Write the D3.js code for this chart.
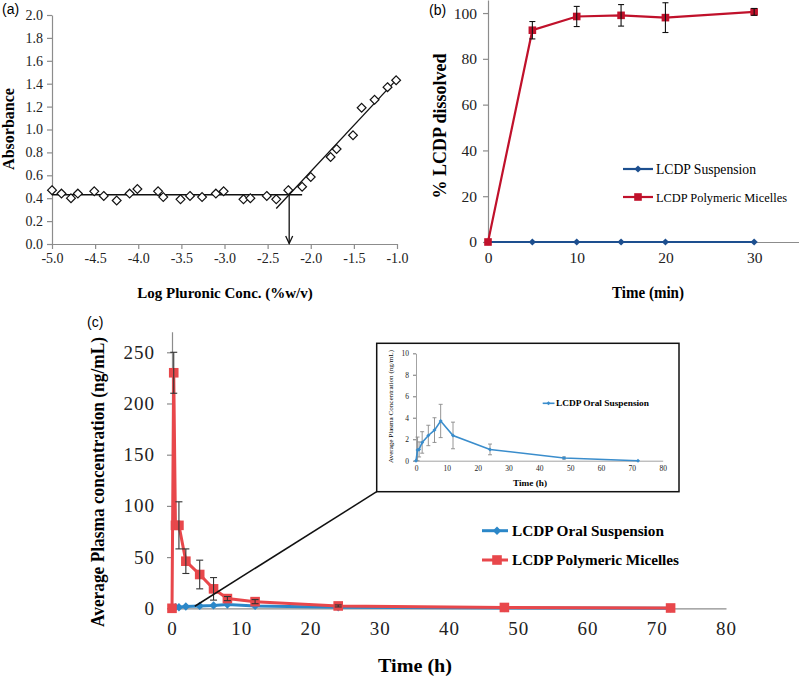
<!DOCTYPE html>
<html><head><meta charset="utf-8">
<script src="https://cdn.jsdelivr.net/npm/d3@7"></script>
<style>body{margin:0;background:#fff}svg{display:block}</style>
</head><body>
<svg id="fig" width="800" height="679"></svg>
<script>
// ---------- Data ----------
// (a) CMC determination
const absLogConc = [-5.0,-4.89,-4.78,-4.70,-4.51,-4.40,-4.25,-4.10,-4.01,-3.77,-3.71,-3.51,-3.40,-3.26,-3.10,-3.01,-2.78,-2.70,-2.51,-2.40,-2.26,-2.10,-2.00,-1.77,-1.70,-1.51,-1.41,-1.26,-1.11,-1.01];
const absValues  = [0.47,0.44,0.40,0.44,0.46,0.42,0.38,0.44,0.48,0.46,0.41,0.39,0.42,0.41,0.44,0.46,0.39,0.40,0.42,0.39,0.47,0.50,0.585,0.76,0.83,0.95,1.19,1.26,1.37,1.43];
const plateauX = [-5.0, -2.1], plateauY = [0.43, 0.43];
const riseX = [-2.40, -1.0], riseY = [0.31, 1.44];
const cmcLogConc = -2.25, cmcAbs = 0.43;
const aXTicks = [-5.0,-4.5,-4.0,-3.5,-3.0,-2.5,-2.0,-1.5,-1.0];
const aYTicks = [0,0.2,0.4,0.6,0.8,1.0,1.2,1.4,1.6,1.8,2.0];

// (b) dissolution
const dissTime = [0,5,10,15,20,30];
const suspensionDiss = [0,0,0,0,0,0];
const micelleDiss = [0,92.5,98.5,99,98,100.5];
const micelleDissErr = [0,3.8,4.4,4.7,6.5,1.5];
const bXTicks = [0,10,20,30];
const bYTicks = [0,20,40,60,80,100];
const bLegend = ["LCDP Suspension","LCDP Polymeric Micelles"];

// (c) plasma concentration
const micelleTime = [0,0.25,0.5,1,2,4,6,8,12,24,48,72];
const micelleConc = [0,230,81,81,46,33,19,9.5,6.5,2.3,0.8,0.3];
const micelleErr  = [0,20,0,23,12,14,11,2,2,1,0,0];
const oralTime = [0,0.5,1,2,4,6,8,12,24,48,72];
const oralConc = [0,1.0,1.05,1.7,2.35,2.85,3.7,2.35,1.05,0.25,0];
const oralErr  = [0,1.2,0.7,1.0,0.95,1.15,1.55,1.24,0.5,0.1,0];
const cXTicks = [0,10,20,30,40,50,60,70,80];
const cYTicks = [0,50,100,150,200,250];
const insetXTicks = [0,10,20,30,40,50,60,70,80];
const insetYTicks = [0,2,4,6,8,10];
const cLegend = ["LCDP Oral Suspension","LCDP Polymeric Micelles"];

// ---------- Drawing ----------
const svg = d3.select("#fig");
const SERIF = "Liberation Serif, Times New Roman, serif";
const SANS = "Liberation Sans, Arial, sans-serif";
const AXIS = "#8c8c8c";

function diamond(r){ return `M0,${-r}L${r},0L0,${r}L${-r},0Z`; }

function styleAxis(g, fs){
  g.attr("font-family", null).attr("font-size", null);
  g.select(".domain").attr("stroke", AXIS).attr("stroke-width",1.2);
  g.selectAll(".tick line").attr("stroke", AXIS).attr("stroke-width",1.2);
  g.selectAll(".tick text").style("font-family", SERIF).style("font-size", fs+"px").attr("fill","#222");
}
function txt(sel){ return sel.style("font-family", SERIF); }

// ===== Panel (a) =====
{
  const x = d3.scaleLinear().domain([-5,-1]).range([52,397]);
  const y = d3.scaleLinear().domain([0,2]).range([244,15]);
  const gx = svg.append("g").attr("transform","translate(0,244)")
    .call(d3.axisBottom(x).tickValues(aXTicks).tickFormat(d3.format(".1f")).tickSize(5).tickSizeOuter(0).tickPadding(4));
  styleAxis(gx, 14);
  gx.selectAll(".tick text").text(d => d3.format(".1f")(d).replace("−","-"));
  const gy = svg.append("g").attr("transform","translate(52,0)")
    .call(d3.axisLeft(y).tickValues(aYTicks).tickFormat(d3.format(".1f")).tickSize(5).tickSizeOuter(0).tickPadding(4));
  styleAxis(gy, 14);

  const line = d3.line().x(d=>x(d[0])).y(d=>y(d[1]));
  svg.append("path").attr("d", line(d3.zip(plateauX, plateauY))).attr("stroke","#111").attr("stroke-width",1.3).attr("fill","none");
  svg.append("path").attr("d", line(d3.zip(riseX, riseY))).attr("stroke","#111").attr("stroke-width",1.3).attr("fill","none");
  const ax = x(cmcLogConc), ay0 = y(cmcAbs), ay1 = y(0);
  svg.append("line").attr("x1",ax).attr("x2",ax).attr("y1",ay0).attr("y2",ay1-0.5).attr("stroke","#111").attr("stroke-width",1.3);
  svg.append("path").attr("d",`M${ax-3.5},${ay1-8}L${ax},${ay1-0.5}L${ax+3.5},${ay1-8}`).attr("stroke","#111").attr("stroke-width",1.3).attr("fill","none");

  svg.append("g").selectAll("path").data(d3.zip(absLogConc, absValues)).join("path")
    .attr("transform", d=>`translate(${x(d[0])},${y(d[1])})`)
    .attr("d", diamond(4.4)).attr("fill","#fff").attr("stroke","#111").attr("stroke-width",1.2);

  svg.append("text").attr("x",2).attr("y",14).style("font-family",SANS).attr("font-size",14).text("(a)");
  txt(svg.append("text").attr("transform","translate(14,129) rotate(-90)").attr("text-anchor","middle")
    .attr("font-weight","bold").attr("font-size",16)).text("Absorbance");
  txt(svg.append("text").attr("x",225).attr("y",298).attr("text-anchor","middle")
    .attr("font-weight","bold").attr("font-size",15)).text("Log Pluronic Conc. (%w/v)");
}

// ===== Panel (b) =====
{
  const x = d3.scaleLinear().domain([0,35]).range([488,798.5]);
  const y = d3.scaleLinear().domain([0,105.7]).range([242,0]);
  const gx = svg.append("g").attr("transform","translate(0,242)")
    .call(d3.axisBottom(x).tickValues(bXTicks).tickSize(0).tickSizeOuter(0).tickPadding(10));
  styleAxis(gx, 15.5);
  const gy = svg.append("g").attr("transform","translate(488,0)")
    .call(d3.axisLeft(y).tickValues(bYTicks).tickSize(5).tickSizeOuter(0).tickPadding(6));
  styleAxis(gy, 15.5);

  const RED = "#c0112b", BLUE = "#1d4f8f";
  const line = d3.line().x(d=>x(d[0])).y(d=>y(d[1]));
  svg.append("path").attr("d", line(d3.zip(dissTime, suspensionDiss))).attr("stroke",BLUE).attr("stroke-width",2.2).attr("fill","none");
  svg.append("g").selectAll("path").data(d3.zip(dissTime, suspensionDiss)).join("path")
    .attr("transform", d=>`translate(${x(d[0])},${y(d[1])})`).attr("d", diamond(3.6)).attr("fill",BLUE);
  svg.append("path").attr("d", line(d3.zip(dissTime, micelleDiss))).attr("stroke",RED).attr("stroke-width",2.2).attr("fill","none");
  svg.append("g").selectAll("rect").data(d3.zip(dissTime, micelleDiss)).join("rect")
    .attr("x", d=>x(d[0])-3.8).attr("y", d=>y(d[1])-3.8).attr("width",7.6).attr("height",7.6).attr("fill",RED);
  const eb = svg.append("g").attr("stroke","#111").attr("stroke-width",1.1);
  d3.zip(dissTime, micelleDiss, micelleDissErr).forEach(([t,v,e])=>{
    if(!e) return;
    const cx = x(t);
    eb.append("line").attr("x1",cx).attr("x2",cx).attr("y1",y(v+e)).attr("y2",y(v-e));
    eb.append("line").attr("x1",cx-3).attr("x2",cx+3).attr("y1",y(v+e)).attr("y2",y(v+e));
    eb.append("line").attr("x1",cx-3).attr("x2",cx+3).attr("y1",y(v-e)).attr("y2",y(v-e));
  });

  const lg = svg.append("g");
  [[BLUE,169],[RED,197]].forEach(([c,ly],i)=>{
    lg.append("line").attr("x1",623).attr("x2",653).attr("y1",ly).attr("y2",ly).attr("stroke",c).attr("stroke-width",2.2);
    if(i===0) lg.append("path").attr("transform",`translate(638,${ly})`).attr("d",diamond(3.6)).attr("fill",c);
    else lg.append("rect").attr("x",634.2).attr("y",ly-3.8).attr("width",7.6).attr("height",7.6).attr("fill",c);
    txt(lg.append("text").attr("x",656).attr("y",ly+5).attr("font-size", i===0?14.5:13)
      .attr("textLength", i===0?100:131).attr("lengthAdjust","spacingAndGlyphs")).text(bLegend[i]);
  });

  svg.append("text").attr("x",429).attr("y",15).style("font-family",SANS).attr("font-size",14).text("(b)");
  txt(svg.append("text").attr("transform","translate(446,126) rotate(-90)").attr("text-anchor","middle")
    .attr("font-weight","bold").attr("font-size",18)).text("% LCDP dissolved");
  txt(svg.append("text").attr("x",648).attr("y",298).attr("text-anchor","middle")
    .attr("font-weight","bold").attr("font-size",17)
    .attr("textLength",72).attr("lengthAdjust","spacingAndGlyphs")).text("Time (min)");
}

// ===== Panel (c) =====
{
  const x = d3.scaleLinear().domain([0,80]).range([172,726]);
  const y = d3.scaleLinear().domain([0,270]).range([608.3,331.8]);
  const gx = svg.append("g").attr("transform","translate(0,608.3)")
    .call(d3.axisBottom(x).tickValues(cXTicks).tickSize(0).tickSizeOuter(0).tickPadding(13));
  styleAxis(gx, 19);
  const gy = svg.append("g").attr("transform","translate(172,0)")
    .call(d3.axisLeft(y).tickValues(cYTicks).tickSize(5).tickSizeOuter(0).tickPadding(12));
  styleAxis(gy, 19);
  gx.selectAll(".tick text").attr("letter-spacing",1);
  gy.selectAll(".tick text").attr("letter-spacing",1);

  const RED = "#e8474b", BLUE = "#2b87c8";
  const line = d3.line().x(d=>x(d[0])).y(d=>y(d[1]));
  svg.append("path").attr("d", line(d3.zip(oralTime, oralConc))).attr("stroke",BLUE).attr("stroke-width",3).attr("fill","none");
  svg.append("g").selectAll("path").data(d3.zip(oralTime, oralConc)).join("path")
    .attr("transform", d=>`translate(${x(d[0])},${y(d[1])})`).attr("d", diamond(4.2)).attr("fill",BLUE);
  svg.append("path").attr("d", line(d3.zip(micelleTime, micelleConc))).attr("stroke",RED).attr("stroke-width",3).attr("fill","none");
  svg.append("g").selectAll("rect").data(d3.zip(micelleTime, micelleConc)).join("rect")
    .attr("x", d=>x(d[0])-4.8).attr("y", d=>y(d[1])-4.8).attr("width",9.6).attr("height",9.6).attr("fill",RED);
  const eb = svg.append("g").attr("stroke","#333").attr("stroke-width",1.1);
  d3.zip(micelleTime, micelleConc, micelleErr).forEach(([t,v,e])=>{
    if(!e) return;
    const cx = x(t);
    eb.append("line").attr("x1",cx).attr("x2",cx).attr("y1",y(v+e)).attr("y2",y(v-e));
    eb.append("line").attr("x1",cx-3.5).attr("x2",cx+3.5).attr("y1",y(v+e)).attr("y2",y(v+e));
    eb.append("line").attr("x1",cx-3.5).attr("x2",cx+3.5).attr("y1",y(v-e)).attr("y2",y(v-e));
  });

  const lg = svg.append("g");
  [[BLUE,530.7],[RED,560]].forEach(([c,ly],i)=>{
    lg.append("line").attr("x1",482).attr("x2",508).attr("y1",ly).attr("y2",ly).attr("stroke",c).attr("stroke-width",3);
    if(i===0) lg.append("path").attr("transform",`translate(497,${ly})`).attr("d",diamond(4.2)).attr("fill",c);
    else lg.append("rect").attr("x",492.2).attr("y",ly-4.8).attr("width",9.6).attr("height",9.6).attr("fill",c);
    txt(lg.append("text").attr("x",512).attr("y",ly+5).attr("font-weight","bold").attr("font-size",14)
      .attr("textLength", i===0?152:167).attr("lengthAdjust","spacingAndGlyphs")).text(cLegend[i]);
  });

  svg.append("text").attr("x",87).attr("y",327).style("font-family",SANS).attr("font-size",14).text("(c)");
  txt(svg.append("text").attr("transform","translate(104,482) rotate(-90)").attr("text-anchor","middle")
    .attr("font-weight","bold").attr("font-size",19)
    .attr("textLength",290).attr("lengthAdjust","spacingAndGlyphs")).text("Average Plasma concentration (ng/mL)");
  txt(svg.append("text").attr("x",378).attr("y",672).attr("font-weight","bold").attr("font-size",19)
    .attr("textLength",74).attr("lengthAdjust","spacingAndGlyphs")).text("Time (h)");

  // ----- inset -----
  const box = {x0:376.7, y0:343.3, x1:679, y1:491.7};
  svg.append("rect").attr("x",box.x0).attr("y",box.y0).attr("width",box.x1-box.x0).attr("height",box.y1-box.y0)
    .attr("fill","#fff").attr("stroke","#111").attr("stroke-width",1.5);
  svg.append("line").attr("x1",box.x0).attr("y1",box.y1).attr("x2",x(3.3)).attr("y2",y(2))
    .attr("stroke","#111").attr("stroke-width",1.5);

  const ix = d3.scaleLinear().domain([0,80]).range([416,662.7]);
  const iy = d3.scaleLinear().domain([0,10]).range([460.7,353.3]);
  const igx = svg.append("g").attr("transform","translate(0,460.7)")
    .call(d3.axisBottom(ix).tickValues(insetXTicks).tickSize(0).tickSizeOuter(0).tickPadding(5));
  styleAxis(igx, 7.5);
  const igy = svg.append("g").attr("transform","translate(416,0)")
    .call(d3.axisLeft(iy).tickValues(insetYTicks).tickSize(3).tickSizeOuter(0).tickPadding(4));
  styleAxis(igy, 7.5);
  igx.select(".domain").attr("stroke-width",0.8);
  igy.select(".domain").attr("stroke-width",0.8);

  const IBLUE = "#3a8dcc";
  const iline = d3.line().x(d=>ix(d[0])).y(d=>iy(d[1]));
  const ieb = svg.append("g").attr("stroke","#8a8a8a").attr("stroke-width",0.9);
  d3.zip(oralTime, oralConc, oralErr).forEach(([t,v,e])=>{
    if(!e) return;
    const cx = ix(t);
    ieb.append("line").attr("x1",cx).attr("x2",cx).attr("y1",iy(v+e)).attr("y2",iy(Math.max(0,v-e)));
    ieb.append("line").attr("x1",cx-2).attr("x2",cx+2).attr("y1",iy(v+e)).attr("y2",iy(v+e));
    ieb.append("line").attr("x1",cx-2).attr("x2",cx+2).attr("y1",iy(Math.max(0,v-e))).attr("y2",iy(Math.max(0,v-e)));
  });
  svg.append("path").attr("d", iline(d3.zip(oralTime, oralConc))).attr("stroke",IBLUE).attr("stroke-width",1.6).attr("fill","none");
  svg.append("g").selectAll("path").data(d3.zip(oralTime, oralConc)).join("path")
    .attr("transform", d=>`translate(${ix(d[0])},${iy(d[1])})`).attr("d", diamond(2)).attr("fill",IBLUE);

  svg.append("line").attr("x1",542.7).attr("x2",554.5).attr("y1",403.3).attr("y2",403.3).attr("stroke",IBLUE).attr("stroke-width",1.6);
  svg.append("path").attr("transform","translate(548.5,403.3)").attr("d",diamond(2)).attr("fill",IBLUE);
  txt(svg.append("text").attr("x",556).attr("y",406).attr("font-weight","bold").attr("font-size",7.5)
    .attr("textLength",93).attr("lengthAdjust","spacingAndGlyphs")).text(cLegend[0]);

  txt(svg.append("text").attr("transform","translate(393,406.5) rotate(-90)").attr("text-anchor","middle")
    .attr("font-size",7).attr("textLength",113).attr("lengthAdjust","spacingAndGlyphs"))
    .text("Average Plasma Concentration (ng/mL)");
  txt(svg.append("text").attr("x",530).attr("y",486).attr("text-anchor","middle")
    .attr("font-weight","bold").attr("font-size",7.5).attr("textLength",34).attr("lengthAdjust","spacingAndGlyphs")).text("Time (h)");
}
</script>
</body></html>
